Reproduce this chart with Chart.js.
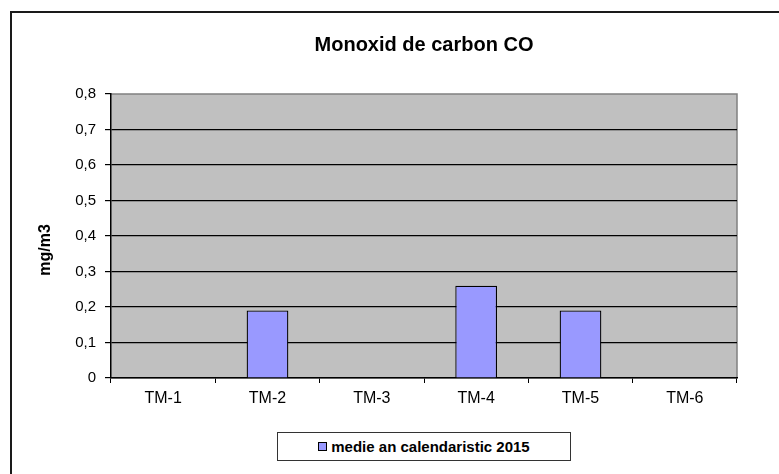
<!DOCTYPE html>
<html>
<head>
<meta charset="utf-8">
<script src="https://cdn.jsdelivr.net/npm/chart.js@4/dist/chart.umd.min.js"></script>
<style>
  html, body { margin: 0; padding: 0; background: #fff; }
  #wrap { position: relative; width: 779px; height: 474px; overflow: hidden; }
  #frame { position: absolute; left: 10px; top: 11px; width: 820px; height: 520px;
           border-top: 2px solid #1a1a1a; border-left: 2px solid #1a1a1a; }
  #c { position: absolute; left: 0; top: 0; }
  #legend { position: absolute; left: 277px; top: 432px; width: 294px; height: 29px;
            border: 1.5px solid #333; background: #fff; box-sizing: border-box;
            font: bold 15px Arial, "Liberation Sans", sans-serif; color: #000;
            display: flex; align-items: center; justify-content: center; }
  #legend .sw { display: inline-block; width: 7px; height: 7px; background: #9999ff;
                border: 1px solid #000; margin-right: 4px; }
</style>
</head>
<body>
<div id="wrap">
  <div id="frame"></div>
  <canvas id="c" width="779" height="474"></canvas>
  <div id="legend"></div>
</div>
<script>
// chart data
const categories = ['TM-1', 'TM-2', 'TM-3', 'TM-4', 'TM-5', 'TM-6'];
const seriesLabel = 'medie an calendaristic 2015';
const seriesValues = [null, 0.19, null, 0.26, 0.19, null];
const yTicks = [0, 0.1, 0.2, 0.3, 0.4, 0.5, 0.6, 0.7, 0.8];
const chartTitle = 'Monoxid de carbon CO';
const yTitle = 'mg/m3';

const FONT = 'Arial, "Liberation Sans", sans-serif';

// grey plot background with grey top/right border
const plotBg = {
  id: 'plotBg',
  beforeDraw(chart) {
    const a = chart.chartArea, ctx = chart.ctx;
    ctx.save();
    ctx.fillStyle = '#c0c0c0';
    ctx.fillRect(a.left, a.top, a.right - a.left, a.bottom - a.top);
    ctx.strokeStyle = '#808080';
    ctx.lineWidth = 1.5;
    ctx.beginPath();
    ctx.moveTo(a.left, a.top);
    ctx.lineTo(a.right, a.top);
    ctx.lineTo(a.right, a.bottom);
    ctx.stroke();
    ctx.restore();
  }
};

// title centred over the plot area, and the vertical axis title
const titles = {
  id: 'titles',
  afterDraw(chart) {
    const a = chart.chartArea, ctx = chart.ctx;
    ctx.save();
    ctx.fillStyle = '#000';
    ctx.textAlign = 'center';
    ctx.textBaseline = 'middle';
    ctx.font = 'bold 20px ' + FONT;
    ctx.fillText(chartTitle, (a.left + a.right) / 2, 45);
    ctx.translate(46, 250);
    ctx.rotate(-Math.PI / 2);
    ctx.font = 'bold 16px ' + FONT;
    ctx.fillText(yTitle, 0, 0);
    ctx.restore();
  }
};

document.getElementById('legend').innerHTML =
  '<span class="sw"></span>' + seriesLabel;

new Chart(document.getElementById('c'), {
  type: 'bar',
  data: {
    labels: categories,
    datasets: [{
      label: seriesLabel,
      data: seriesValues,
      backgroundColor: '#9999ff',
      borderColor: '#000',
      borderWidth: 1.3,
      barPercentage: 0.4,
      categoryPercentage: 1.0
    }]
  },
  options: {
    responsive: false,
    animation: false,
    layout: { padding: { left: 0, right: 42, top: 94, bottom: 46 } },
    plugins: {
      legend: { display: false },
      tooltip: { enabled: false },
      title: { display: false }
    },
    scales: {
      x: {
        offset: true,
        afterFit(s) { s.height = 50; },
        border: { color: '#000', width: 1.5 },
        grid: { offset: true, drawOnChartArea: false, drawTicks: true, tickLength: 5, color: '#000' },
        ticks: { color: '#000', padding: 6, font: { family: FONT, size: 16 } }
      },
      y: {
        min: 0,
        max: 0.8,
        afterFit(s) { s.width = 111; },
        afterBuildTicks(s) { s.ticks = yTicks.map(v => ({ value: v })); },
        border: { color: '#000', width: 1.5 },
        grid: {
          color: ctx => (ctx.tick && ctx.tick.value >= 0.8) ? 'rgba(0,0,0,0)' : '#000',
          tickColor: '#000',
          lineWidth: 1.2,
          tickLength: 6
        },
        ticks: {
          color: '#000',
          padding: 9,
          font: { family: FONT, size: 15 },
          callback: v => (Math.round(v * 10) / 10).toString().replace('.', ',')
        }
      }
    }
  },
  plugins: [plotBg, titles]
});
</script>
</body>
</html>
